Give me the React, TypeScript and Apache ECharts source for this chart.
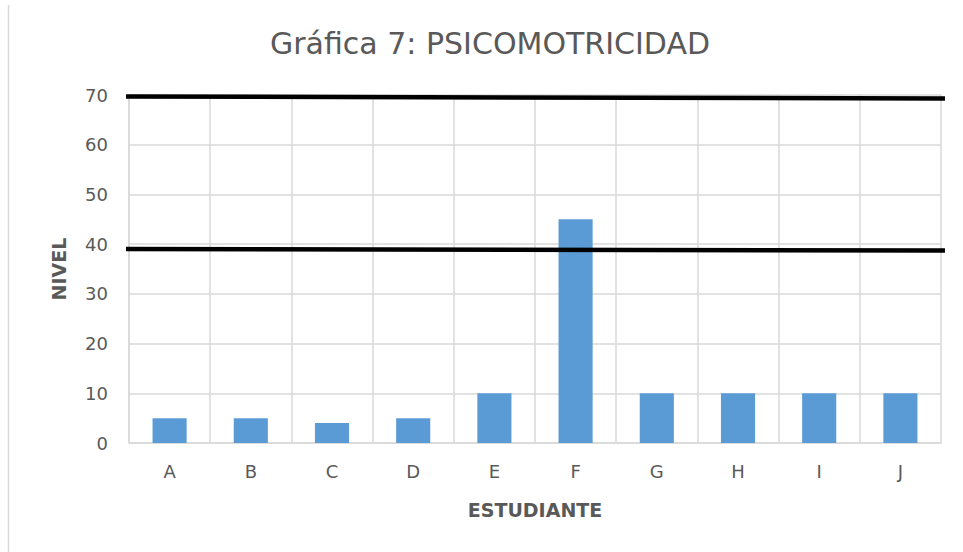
import React, { useEffect, useRef } from "react";
import * as echarts from "echarts";

const categories = ["A", "B", "C", "D", "E", "F", "G", "H", "I", "J"];
const nivel = [5, 5, 4, 5, 10, 45, 10, 10, 10, 10];
const yTicks = { min: 0, max: 70, interval: 10 };
// hand-drawn reference lines: value at left end, value at right end
const refLineLeft = [69.7, 39.0];
const refLineRight = [69.3, 38.7];

const FONT = "'DejaVu Sans', sans-serif";
const GRAY = "#595959";

export default function App() {
  const ref = useRef<HTMLDivElement>(null);
  useEffect(() => {
    if (!ref.current) return;
    const chart = echarts.init(ref.current, undefined, { renderer: "svg" });
    chart.setOption({
      animation: false,
      backgroundColor: "#ffffff",
      title: {
        text: "Gráfica 7: PSICOMOTRICIDAD",
        left: 485,
        top: 23,
        textAlign: "center",
        textStyle: { fontFamily: FONT, fontSize: 30, fontWeight: "normal", color: GRAY },
      },
      grid: { left: 129, right: 22, top: 95, bottom: 109 },
      xAxis: {
        type: "category",
        data: categories,
        name: "ESTUDIANTE",
        nameLocation: "middle",
        nameGap: 57,
        nameTextStyle: { fontFamily: FONT, fontSize: 19, fontWeight: "bold", color: GRAY },
        axisLine: { show: true, lineStyle: { color: "#d9d9d9", width: 1.5 } },
        axisTick: { show: false },
        axisLabel: { fontFamily: FONT, fontSize: 18, color: GRAY, margin: 19 },
        splitLine: { show: true, lineStyle: { color: "#d9d9d9", width: 1.5 } },
      },
      yAxis: {
        type: "value",
        min: yTicks.min,
        max: yTicks.max,
        interval: yTicks.interval,
        name: "NIVEL",
        nameLocation: "middle",
        nameGap: 61,
        nameTextStyle: { fontFamily: FONT, fontSize: 19, fontWeight: "bold", color: GRAY },
        axisLine: { show: true, lineStyle: { color: "#d9d9d9", width: 1.5 } },
        axisTick: { show: false },
        axisLabel: { fontFamily: FONT, fontSize: 18, color: GRAY, margin: 21 },
        splitLine: { show: true, lineStyle: { color: "#d9d9d9", width: 1.5 } },
      },
      series: [
        {
          type: "bar",
          data: nivel,
          barWidth: "42%",
          itemStyle: { color: "#5b9bd5" },
        },
      ],
    });

    const xA = chart.convertToPixel({ xAxisIndex: 0 }, categories[0]) as number;
    const xJ = chart.convertToPixel({ xAxisIndex: 0 }, categories[categories.length - 1]) as number;
    const band = (xJ - xA) / (categories.length - 1);
    const x0 = xA - band / 2 - 3;
    const x1 = xJ + band / 2 + 4;
    const lines = refLineLeft.map((v, i) => {
      const y0 = chart.convertToPixel({ yAxisIndex: 0 }, v) as number;
      const y1 = chart.convertToPixel({ yAxisIndex: 0 }, refLineRight[i]) as number;
      return {
        type: "line",
        z: 100,
        shape: { x1: x0, y1: y0, x2: x1, y2: y1 },
        style: { stroke: "#000000", lineWidth: 4.5 },
      };
    });
    chart.setOption({
      graphic: [
        {
          type: "line",
          shape: { x1: 8.5, y1: 5, x2: 8.5, y2: 552 },
          style: { stroke: "#d9d9d9", lineWidth: 1.5 },
        },
        ...lines,
      ],
    });
    return () => chart.dispose();
  }, []);
  return (
    <div
      ref={ref}
      style={{ position: "fixed", left: 0, top: 0, width: 963, height: 552 }}
    />
  );
}
